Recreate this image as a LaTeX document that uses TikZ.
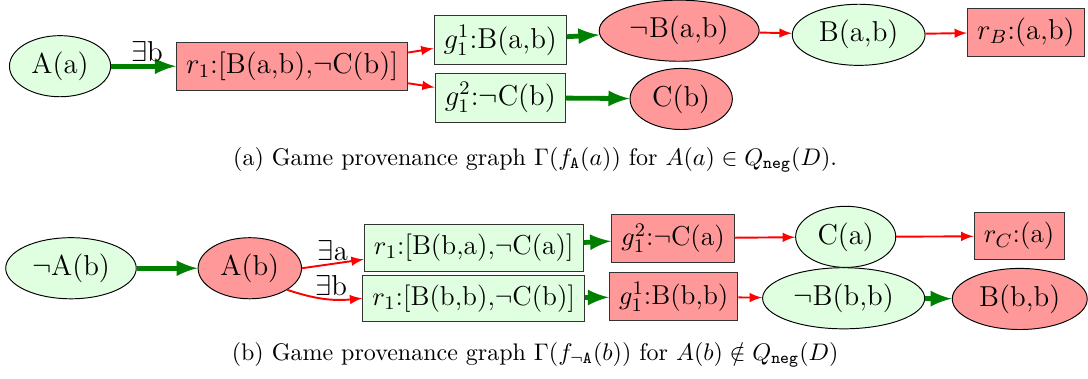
\documentclass[tikz,border=0pt]{standalone}
\usetikzlibrary{shapes.geometric}

\begin{document}
\begin{tikzpicture}[>=latex, font=\large]
  \tikzstyle{posnode}=[draw=black, fill=green!12, ellipse, inner sep=3pt]
  \tikzstyle{negnode}=[draw=black, fill=red!40, ellipse, inner sep=3pt]
  \tikzstyle{posbox}=[draw=black!80, fill=green!12, inner sep=4pt]
  \tikzstyle{negbox}=[draw=black!80, fill=red!40, inner sep=4pt]
  \tikzstyle{lowbox}=[font=\fontsize{11.4}{13}\selectfont]
  \tikzstyle{win}=[->, line width=2pt, green!50!black]
  \tikzstyle{lose}=[->, thick, red]
  \tikzstyle{lbl}=[above, text=black, inner sep=1pt]
  \tikzstyle{captxt}=[font=\normalsize]

  \useasboundingbox (0,0) rectangle (15.94,-5.55);

  % ================= (a) A(a) =============
  \node[posnode] (Aa) at (0.88,-0.97) {A(a)};
  \node[negbox] (r1a) at (4.28,-0.97) {$r_1$:[B(a,b),$\neg$C(b)]};
  \node[posbox] (g11a) at (7.33,-0.59) {$g_1^1$:B(a,b)};
  \node[posbox] (g12a) at (7.33,-1.43) {$g_1^2$:$\neg$C(b)};
  \node[negnode] (nBab) at (9.95,-0.45) {$\neg$B(a,b)};
  \node[posnode] (Bab) at (12.58,-0.51) {B(a,b)};
  \node[negbox] (rB) at (15.03,-0.47) {$r_B$:(a,b)};
  \node[negnode] (Cb) at (9.98,-1.45) {C(b)};

  \draw[win] (Aa) -- node[lbl, pos=0.55] {$\exists$b} (r1a);
  \draw[lose] ([yshift=0.2cm]r1a.east) -- ([yshift=-0.12cm]g11a.west);
  \draw[lose] ([yshift=-0.25cm]r1a.east) -- ([yshift=0.15cm]g12a.west);
  \draw[win] (g11a) -- (nBab);
  \draw[lose] (nBab) -- (Bab);
  \draw[lose] (Bab) -- (rB);
  \draw[win] (g12a) -- (Cb);

  \node[captxt] (capa) at (7.84,-2.34)
    {(a) Game provenance graph $\Gamma(f_{\mathtt{A}}(a))$ for $A(a)\in Q_{\mathtt{neg}}(D)$.};

  % ================= (b) A(b) =============
  \node[posnode] (nAb) at (1.04,-3.93) {$\neg$A(b)};
  \node[negnode] (Ab) at (3.66,-3.93) {A(b)};
  \node[posbox, lowbox] (r1ba) at (6.94,-3.63) {$r_1$:[B(b,a),$\neg$C(a)]};
  \node[posbox, lowbox] (r1bb) at (6.94,-4.37) {$r_1$:[B(b,b),$\neg$C(b)]};
  \node[negbox, lowbox] (g12b) at (9.86,-3.49) {$g_1^2$:$\neg$C(a)};
  \node[negbox, lowbox] (g11b) at (9.87,-4.35) {$g_1^1$:B(b,b)};
  \node[posnode] (Ca) at (12.39,-3.47) {C(a)};
  \node[negbox, lowbox] (rC) at (14.93,-3.46) {$r_C$:(a)};
  \node[posnode] (nBbb) at (12.36,-4.37) {$\neg$B(b,b)};
  \node[negnode] (Bbb) at (14.94,-4.38) {B(b,b)};

  \draw[win] (nAb) -- (Ab);
  \draw[lose] (Ab.east) -- node[lbl] {$\exists$a} ([yshift=-0.17cm]r1ba.west);
  \draw[lose] (Ab.-30) to[bend right=12] node[lbl, pos=0.6] {$\exists$b} (r1bb.west);
  \draw[win] (r1ba) -- (g12b);
  \draw[win] (r1bb) -- (g11b);
  \draw[lose] (g12b) -- (Ca);
  \draw[lose] (Ca) -- (rC);
  \draw[lose] (g11b) -- (nBbb);
  \draw[win] (nBbb) -- (Bbb);

  \node[captxt] (capb) at (7.84,-5.20)
    {(b) Game provenance graph $\Gamma(f_{\neg\mathtt{A}}(b))$ for $A(b)\notin Q_{\mathtt{neg}}(D)$};
\end{tikzpicture}
\end{document}
